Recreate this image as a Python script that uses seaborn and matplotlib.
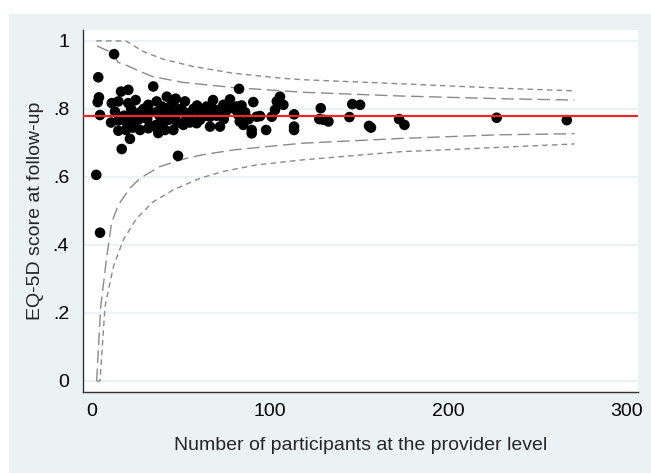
import numpy as np
import pandas as pd
import matplotlib
matplotlib.use("Agg")
import matplotlib.pyplot as plt
import seaborn as sns
from matplotlib.patches import Rectangle

# data
# provider size (n) and mean EQ-5D score at follow-up
n_pts = [2.4, 3.5, 3.9, 3.2, 4.5, 4.5, 12.4, 16.3, 20.4, 11.1, 14.8, 20.4, 24.5,
         12.9, 10.7, 14.8, 19.5, 14.8, 19.1, 21.3, 16.7, 22.3, 26, 27, 30.7,
         31.6, 34.4, 31.6, 36.3, 37.2, 36.3, 42, 41, 42.9, 41, 45.7, 45.7, 47.6,
         52.2, 51.3, 56, 39.2, 43.8, 48.3, 82.6, 68, 77.5, 73.8, 71, 64.4, 60.7,
         57, 58.8, 66.3, 66.3, 71.9, 81.3, 82.2, 83, 85, 90.6, 92.5, 94.4, 89.7,
         89.7, 97.8, 105.6, 103.8, 107.5, 102.8, 101, 113.5, 113.5, 113.5,
         128.5, 127.7, 130, 132.8, 146.2, 150.6, 144.6, 155.6, 156.7, 172.5,
         175.5, 227.3, 266.7, 55, 60.7,
         44, 45, 48, 50, 53, 55, 38, 40, 33, 29, 35, 47, 49, 62, 64, 68, 75, 78,
         86, 88, 57, 59, 24, 22, 18, 27, 31, 36, 43, 52, 70, 74, 80, 84, 23]
v_pts = [0.606, 0.893, 0.834, 0.820, 0.782, 0.436, 0.961, 0.851, 0.856, 0.817,
         0.822, 0.817, 0.826, 0.792, 0.760, 0.766, 0.760, 0.736, 0.738, 0.712,
         0.682, 0.782, 0.768, 0.738, 0.773, 0.812, 0.866, 0.743, 0.753, 0.729,
         0.822, 0.836, 0.797, 0.768, 0.738, 0.738, 0.817, 0.787, 0.822, 0.753,
         0.787, 0.807, 0.807, 0.662, 0.859, 0.826, 0.828, 0.812, 0.797, 0.807,
         0.797, 0.787, 0.758, 0.777, 0.748, 0.748, 0.807, 0.782, 0.763, 0.753,
         0.820, 0.777, 0.779, 0.738, 0.728, 0.738, 0.836, 0.822, 0.812, 0.797,
         0.777, 0.784, 0.748, 0.738, 0.802, 0.770, 0.768, 0.763, 0.814, 0.812,
         0.776, 0.750, 0.745, 0.770, 0.753, 0.774, 0.767, 0.763, 0.768,
         0.800, 0.770, 0.760, 0.800, 0.770, 0.760, 0.780, 0.760, 0.790, 0.800,
         0.750, 0.830, 0.790, 0.790, 0.780, 0.800, 0.790, 0.810, 0.790, 0.770,
         0.800, 0.810, 0.760, 0.800, 0.780, 0.790, 0.770, 0.790, 0.790, 0.790,
         0.780, 0.770, 0.800, 0.810, 0.745]

mean_score = 0.78

# control limits (inner = long dash, outer = short dash)
n_up_out = [2.4, 19, 28.7, 40, 56.7, 79, 107, 118, 173, 229, 271]
v_up_out = [1.0, 1.0, 0.969, 0.946, 0.925, 0.905, 0.890, 0.886, 0.874, 0.861, 0.853]
n_up_in = [2.8, 11.8, 14.6, 19, 27, 34, 51, 79, 107, 118, 173, 229, 271]
v_up_in = [0.985, 0.964, 0.937, 0.929, 0.910, 0.895, 0.878, 0.863, 0.853, 0.849,
           0.838, 0.830, 0.826]
n_lo_in = [2.6, 4.9, 8.3, 11, 14.8, 21.3, 27, 38, 51, 62, 79, 98, 118, 173, 229, 271]
v_lo_in = [0.0, 0.219, 0.366, 0.465, 0.518, 0.567, 0.596, 0.630, 0.652, 0.665,
           0.679, 0.689, 0.699, 0.713, 0.724, 0.727]
n_lo_out = [2.6, 4.5, 7.3, 12, 17.6, 25, 34.4, 45.7, 60.7, 73.6, 92, 118, 173, 229, 271]
v_lo_out = [0.0, 0.0, 0.219, 0.336, 0.415, 0.478, 0.527, 0.562, 0.596, 0.616,
            0.635, 0.650, 0.674, 0.687, 0.697]

x_ticks = [0, 100, 200, 300]
y_ticks = [0, 0.2, 0.4, 0.6, 0.8, 1.0]
y_tick_labels = ["0", ".2", ".4", ".6", ".8", "1"]

df = pd.DataFrame({"n": n_pts, "score": v_pts})

sns.set_style("white")
plt.rcParams["font.family"] = ["Liberation Sans", "DejaVu Sans"]

bg = "#eaf2f3"
fig = plt.figure(figsize=(6.51, 4.73), dpi=100, facecolor="white")
fig.patches.append(Rectangle((9 / 651, 0), 1, (473 - 14) / 473,
                             transform=fig.transFigure, color=bg, zorder=-10))
ax = fig.add_axes([83 / 651, (473 - 392) / 473, (638 - 83) / 651, (392 - 30) / 473])
ax.set_facecolor("white")

for yv in y_ticks:
    ax.axhline(yv, color=bg, lw=1.3, zorder=0)

grey = "#8a8a8a"
short = (0, (4, 3))
long_ = (0, (9, 4))
sns.lineplot(x=n_up_out, y=v_up_out, ax=ax, color=grey, lw=1, linestyle=short,
             estimator=None, sort=False, zorder=2)
sns.lineplot(x=n_lo_out, y=v_lo_out, ax=ax, color=grey, lw=1, linestyle=short,
             estimator=None, sort=False, zorder=2)
sns.lineplot(x=n_up_in, y=v_up_in, ax=ax, color=grey, lw=1, linestyle=long_,
             estimator=None, sort=False, zorder=2)
sns.lineplot(x=n_lo_in, y=v_lo_in, ax=ax, color=grey, lw=1, linestyle=long_,
             estimator=None, sort=False, zorder=2)

sns.scatterplot(data=df, x="n", y="score", ax=ax, color="black", s=58,
                edgecolor="none", zorder=3)
ax.axhline(mean_score, color="#e8262b", lw=1.6, zorder=4)

ax.set_xlim(-5.06, 306.7)
ax.set_ylim(-0.0324, 1.032)
ax.set_xticks(x_ticks)
ax.set_yticks(y_ticks)
ax.set_yticklabels(y_tick_labels)
ax.tick_params(axis="both", direction="out", length=6, width=1, color="#333333",
               labelsize=14, labelcolor="black")
ax.tick_params(axis="x", pad=2)
ax.tick_params(axis="y", pad=4)
for side in ["top", "right"]:
    ax.spines[side].set_visible(False)
for side in ["left", "bottom"]:
    ax.spines[side].set_color("#333333")
    ax.spines[side].set_linewidth(1)

ax.set_xlabel("Number of participants at the provider level", fontsize=14, labelpad=12)
ax.set_ylabel("EQ-5D score at follow-up", fontsize=14, labelpad=6)

fig.savefig("out.png", dpi=100, facecolor="white")
